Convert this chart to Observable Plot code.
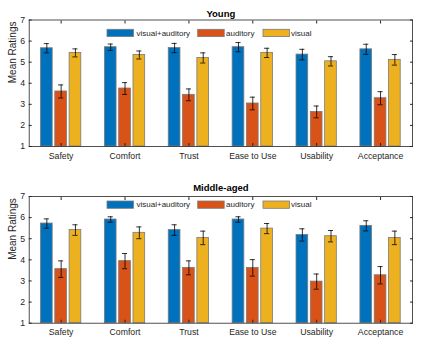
<!DOCTYPE html>
<html><head><meta charset="utf-8">
<script src="https://cdn.jsdelivr.net/npm/d3@7"></script>
<script src="https://cdn.jsdelivr.net/npm/@observablehq/plot@0.6"></script>
<style>body{margin:0;background:#fff;} #c svg{display:block}</style>
</head><body><div id="c"></div>
<script>
const categories = ["Safety", "Comfort", "Trust", "Ease to Use", "Usability", "Acceptance"];
const series = ["visual+auditory", "auditory", "visual"];
const colors = ["#0072BD", "#D95319", "#EDB120"];
const yTicks = [1, 2, 3, 4, 5, 6, 7];

// Young
const youngVA = [5.66, 5.71, 5.67, 5.71, 5.36, 5.61];
const youngA  = [3.61, 3.75, 3.45, 3.04, 2.64, 3.29];
const youngV  = [5.44, 5.34, 5.20, 5.44, 5.04, 5.11];
const youngVAErr = [0.22, 0.15, 0.22, 0.22, 0.25, 0.24];
const youngAErr  = [0.31, 0.28, 0.28, 0.30, 0.28, 0.31];
const youngVErr  = [0.19, 0.19, 0.24, 0.22, 0.22, 0.25];

// Middle-aged
const middleVA = [5.72, 5.91, 5.41, 5.91, 5.18, 5.61];
const middleA  = [3.56, 3.94, 3.62, 3.62, 2.97, 3.27];
const middleV  = [5.41, 5.28, 5.04, 5.48, 5.12, 5.04];
const middleVAErr = [0.22, 0.13, 0.25, 0.13, 0.29, 0.24];
const middleAErr  = [0.39, 0.36, 0.33, 0.39, 0.36, 0.41];
const middleVErr  = [0.25, 0.28, 0.32, 0.24, 0.27, 0.32];

const groupOffset = 0.224, barW = 0.183, capHalf = 0.04;
const axisColor = "#262626";

function panel(title, vals, errs, mt, mb, legendTop, titleDy) {
  const rows = categories.flatMap((c, i) => series.map((s, j) => ({
    cat: c, series: s, xc: i + 1 + (j - 1) * groupOffset,
    value: vals[j][i], err: errs[j][i]
  })));
  const W = 423, H = 172, ml = 28.7, mr = 11;
  const svg = Plot.plot({
    width: W, height: H, marginLeft: ml, marginRight: mr, marginTop: mt, marginBottom: mb,
    style: {fontFamily: "'Liberation Sans', Arial, sans-serif", fontSize: "8.7px", color: axisColor, background: "#fff"},
    x: {type: "linear", domain: [0.5, 6.5]},
    y: {domain: [1, 7]},
    color: {domain: series, range: colors},
    marks: [
      Plot.rectY(rows, {x1: d => d.xc - barW / 2, x2: d => d.xc + barW / 2, y1: 1, y2: "value", fill: "series", stroke: "#7a7a7a", strokeWidth: 0.8}),
      Plot.ruleX(rows, {x: "xc", y1: d => d.value - d.err, y2: d => d.value + d.err, stroke: "#000", strokeWidth: 0.8}),
      Plot.ruleY(rows, {y: d => d.value + d.err, x1: d => d.xc - capHalf, x2: d => d.xc + capHalf, stroke: "#000", strokeWidth: 0.8}),
      Plot.ruleY(rows, {y: d => d.value - d.err, x1: d => d.xc - capHalf, x2: d => d.xc + capHalf, stroke: "#000", strokeWidth: 0.8}),
      Plot.frame({stroke: axisColor, strokeWidth: 0.8}),
      Plot.axisX([1, 2, 3, 4, 5, 6], {anchor: "bottom", tickSize: 0, tickPadding: 6, tickFormat: d => categories[d - 1], label: null}),
      Plot.axisX([1, 2, 3, 4, 5, 6], {anchor: "bottom", tickSize: -3, tickFormat: () => "", label: null}),
      Plot.axisX([1, 2, 3, 4, 5, 6], {anchor: "top", tickSize: -3, tickFormat: () => "", label: null}),
      Plot.axisY(yTicks, {anchor: "left", tickSize: 0, tickPadding: 4, label: null}),
      Plot.axisY(yTicks, {anchor: "left", tickSize: -3, tickFormat: () => "", label: null}),
      Plot.axisY(yTicks, {anchor: "right", tickSize: -3, tickFormat: () => "", label: null}),
      Plot.text([title], {frameAnchor: "top", lineAnchor: "middle", dy: titleDy, fontWeight: "bold", fontSize: 9.5, fill: "#000"}),
      Plot.text(["Mean Ratings"], {frameAnchor: "left", lineAnchor: "middle", rotate: -90, dx: -16.7, fontSize: 10, fill: axisColor})
    ]
  });
  // legend
  const g = d3.select(svg).append("g").attr("font-size", "8px").attr("fill", axisColor).attr("text-anchor", "start");
  const items = [
    {sx: 107, tx: 136.5},
    {sx: 197.7, tx: 226},
    {sx: 263, tx: 291}
  ];
  series.forEach((s, j) => {
    g.append("rect").attr("x", items[j].sx).attr("y", legendTop).attr("width", 26.5).attr("height", 7.3)
      .attr("fill", colors[j]).attr("stroke", "#7a7a7a").attr("stroke-width", 0.8);
    g.append("text").attr("x", items[j].tx).attr("y", legendTop + 3.65).attr("dy", "0.35em").attr("text-anchor", "start").text(s);
  });
  return svg;
}

const c = document.getElementById("c");
c.append(panel("Young", [youngVA, youngA, youngV], [youngVAErr, youngAErr, youngVErr], 19.5, 26, 29.3, -6.3));
c.append(panel("Middle-aged", [middleVA, middleA, middleV], [middleVAErr, middleAErr, middleVErr], 24, 21.3, 29, -8.3));
</script></body></html>
